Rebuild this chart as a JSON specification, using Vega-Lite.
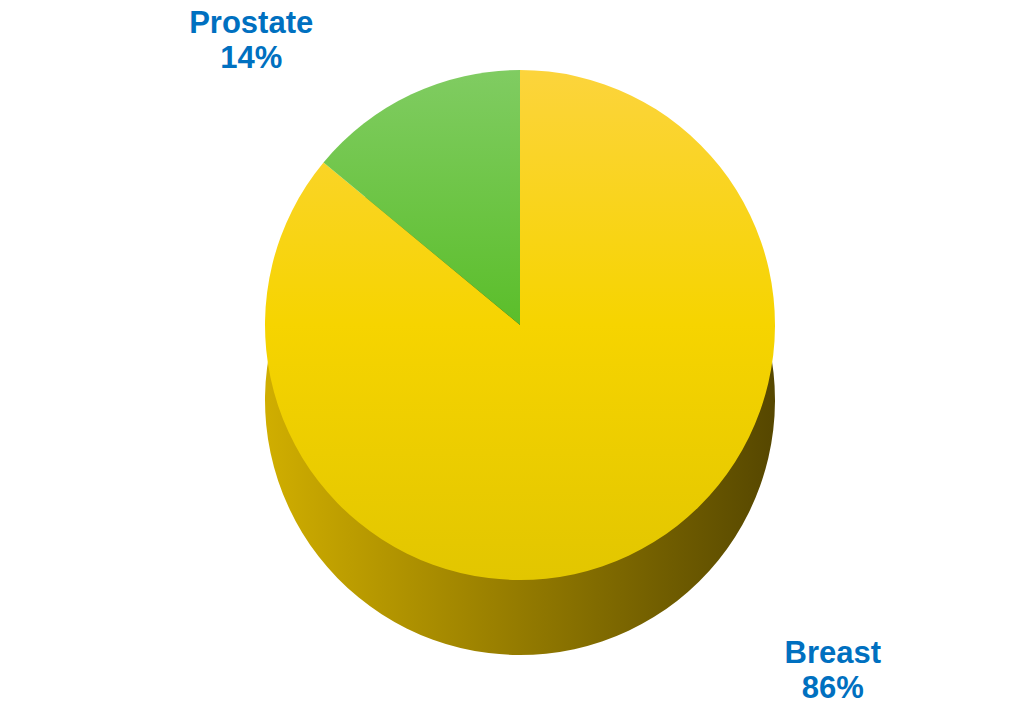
{
  "$schema": "https://vega.github.io/schema/vega-lite/v6.json",
  "width": 1010,
  "height": 706,
  "padding": 0,
  "autosize": {"type": "none"},
  "background": "white",
  "view": {"stroke": null},
  "data": {
    "values": [
      {"cancer": "Breast", "value": 86, "label": "Breast\n86%"},
      {"cancer": "Prostate", "value": 14, "label": "Prostate\n14%"}
    ]
  },
  "transform": [
    {"stack": "value", "groupby": [], "sort": [{"field": "cancer", "order": "ascending"}], "as": ["start", "end"]}
  ],
  "layer": [
    {
      "mark": {
        "type": "arc",
        "outerRadius": 255,
        "xOffset": 15,
        "yOffset": 47,
        "strokeWidth": 0,
        "fill": {
          "gradient": "linear", "x1": 0, "y1": 0, "x2": 1, "y2": 0,
          "stops": [
            {"offset": 0, "color": "#D0AE00"},
            {"offset": 0.45, "color": "#9A8000"},
            {"offset": 1, "color": "#564700"}
          ]
        }
      },
      "encoding": {
        "theta": {"field": "start", "type": "quantitative", "scale": {"domain": [0, 100]}},
        "theta2": {"field": "end"}
      }
    },
    {
      "transform": [{"filter": "datum.cancer === 'Breast'"}],
      "mark": {
        "type": "arc",
        "outerRadius": 255,
        "xOffset": 15,
        "yOffset": -28,
        "strokeWidth": 0,
        "fill": {
          "gradient": "linear", "x1": 0, "y1": 0, "x2": 0, "y2": 1,
          "stops": [
            {"offset": 0, "color": "#FCD43C"},
            {"offset": 0.5, "color": "#F6D400"},
            {"offset": 1, "color": "#E2C600"}
          ]
        }
      },
      "encoding": {
        "theta": {"field": "start", "type": "quantitative", "scale": {"domain": [0, 100]}},
        "theta2": {"field": "end"}
      }
    },
    {
      "transform": [{"filter": "datum.cancer === 'Prostate'"}],
      "mark": {
        "type": "arc",
        "outerRadius": 255,
        "xOffset": 15,
        "yOffset": -28,
        "strokeWidth": 0,
        "fill": {
          "gradient": "linear", "x1": 0, "y1": 0, "x2": 0, "y2": 1,
          "stops": [
            {"offset": 0, "color": "#80CC62"},
            {"offset": 1, "color": "#5BBE2A"}
          ]
        }
      },
      "encoding": {
        "theta": {"field": "start", "type": "quantitative", "scale": {"domain": [0, 100]}},
        "theta2": {"field": "end"}
      }
    },
    {
      "mark": {
        "type": "text",
        "font": "Liberation Sans",
        "fontSize": 31,
        "fontWeight": "bold",
        "lineBreak": "\n",
        "lineHeight": 35,
        "radius": 429,
        "xOffset": 37,
        "yOffset": -14,
        "thetaOffset": -0.305
      },
      "encoding": {
        "theta": {"field": "value", "type": "quantitative", "stack": true},
        "color": {"field": "cancer", "type": "nominal", "scale": {"range": ["#0070C0", "#0070C0"]}, "legend": null},
        "text": {"field": "label"}
      }
    }
  ]
}
